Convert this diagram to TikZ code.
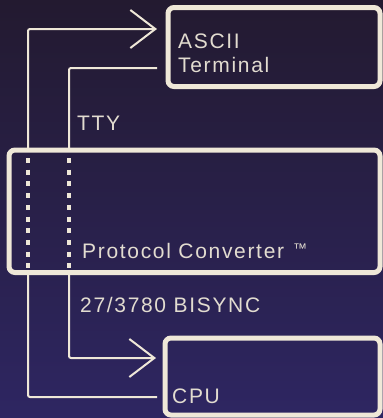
\documentclass[tikz,border=0pt]{standalone}
\usepackage{fontspec}
\setmainfont{Liberation Sans}[LetterSpace=8]
\usetikzlibrary{arrows.meta}
\definecolor{bgtop}{HTML}{231A30}
\definecolor{bgbot}{HTML}{2E2662}
\definecolor{ink}{HTML}{EFE8D8}
\definecolor{txt}{HTML}{E2DCD0}
\begin{document}
\begin{tikzpicture}[x=1pt,y=-1pt,
  box/.style={draw=ink, line width=5pt, rounded corners=6pt, minimum width=#1, inner sep=0pt},
  conn/.style={draw=ink, line width=2pt, rounded corners=2pt},
  chev/.style={-{Straight Barb[length=25pt,width=38pt,line width=2pt]}},
  dots/.style={draw=ink, line width=4pt, dash pattern=on 5pt off 6.7pt},
  lbl/.style={text=txt, inner sep=0pt, anchor=base west, font=\fontsize{21}{24}\selectfont}
]
\useasboundingbox (0,0) rectangle (383,418);
\fill[top color=bgtop, bottom color=bgbot] (0,0) rectangle (383,418);

% boxes
\node[box=212pt, minimum height=79pt] (term) at (274,47) {};
\node[box=371pt, minimum height=122.5pt] (conv) at (194.5,211.25) {};
\node[box=215pt, minimum height=77pt] (cpu) at (272.5,376.5) {};

% labels
\node[lbl] (ascii) at (178,48) {ASCII};
\node[lbl] (termtxt) at (178,72) {Terminal};
\node[lbl] (tty) at (77,130) {TTY};
\node[lbl] (convtxt) at (82,258) {Protocol Converter};
\node[text=txt, inner sep=0pt, anchor=north west, font=\fontsize{14}{15}\selectfont] (tm) at (293,244) {™};
\node[lbl] (bisync) at (80,312) {27/3780 BISYNC};
\node[lbl] (cputxt) at (172,403) {CPU};

% coordinates
\coordinate (aT) at (28,150);
\coordinate (bT) at (69,150);
\coordinate (aB) at (28,272.5);
\coordinate (bB) at (69,272.5);
\coordinate (tip1) at (157,29);
\coordinate (end2) at (157,68);
\coordinate (tip2) at (156,358);
\coordinate (end1) at (157,397);

% connectors above converter
\draw[conn, chev] (aT) -- (aT |- tip1) -- (tip1);
\draw[conn] (bT) -- (bT |- end2) -- (end2);

% dotted pass-through inside converter
\draw[dots] (28,158) -- (28,270);
\draw[dots] (69,158) -- (69,270);

% connectors below converter
\draw[conn, chev] (bB) -- (bB |- tip2) -- (tip2);
\draw[conn] (aB) -- (aB |- end1) -- (end1);
\end{tikzpicture}
\end{document}
